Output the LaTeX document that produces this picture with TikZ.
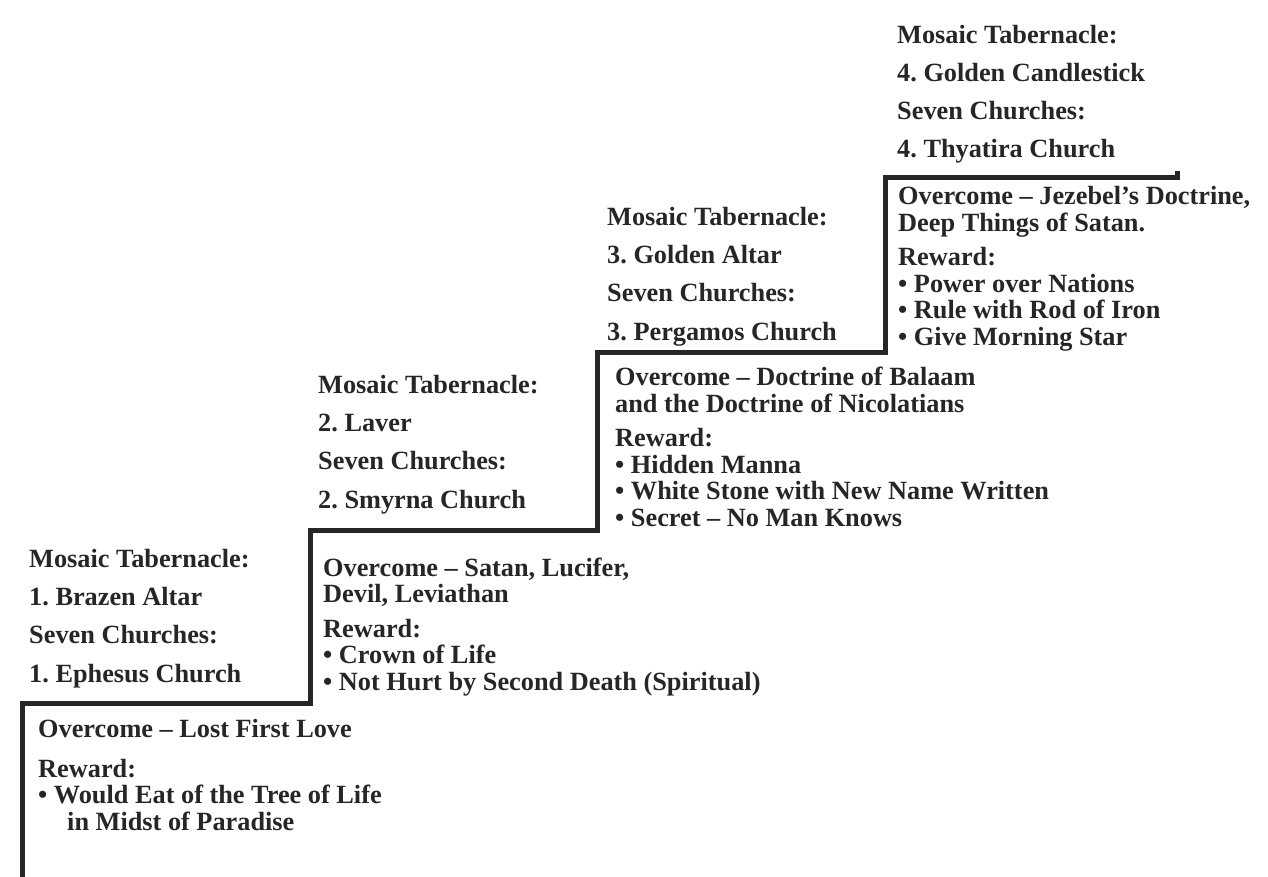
\documentclass[tikz,border=0pt]{standalone}
\usepackage{fontspec}
\setmainfont{Liberation Serif}
\usepackage{tikz}

\begin{document}
\begin{tikzpicture}[x=1pt, y=-1pt,
        tabtext/.style={anchor=base west, align=left, inner sep=0pt, text=black!85,
            font=\fontsize{26.3}{38.3}\selectfont\bfseries\frenchspacing},
        wintext/.style={anchor=base west, align=left, inner sep=0pt, text=black!85,
            font=\fontsize{26.3}{26.5}\selectfont\bfseries\frenchspacing}]
        \useasboundingbox (0,0) rectangle (1268,877);

        % the four steps
        \coordinate (base) at (22,882);
        \coordinate (t1) at (310,703);
        \coordinate (t2) at (597,530);
        \coordinate (t3) at (885,352);
        \coordinate (t4) at (1177,178);
        \coordinate (tip) at (1177,171);
        \draw[line width=5pt, black!85] (base) |- (t1) |- (t2) |- (t3) |- (t4) -- (tip);

        % above each step (placed by the last line)
        \node[tabtext] (tab1) at (29,682) {Mosaic Tabernacle:\\1. Brazen Altar\\Seven Churches:\\1. Ephesus Church};
        \node[tabtext] (tab2) at (318,508) {Mosaic Tabernacle:\\2. Laver\\Seven Churches:\\2. Smyrna Church};
        \node[tabtext] (tab3) at (607,340) {Mosaic Tabernacle:\\3. Golden Altar\\Seven Churches:\\3. Pergamos Church};
        \node[tabtext] (tab4) at (897,158) {Mosaic Tabernacle:\\4. Golden Candlestick\\Seven Churches:\\4. Thyatira Church};

        % below each step (placed by the last line)
        \node[wintext] (win1) at (38,830) {Overcome -- Lost First Love\\[13pt]Reward:\\\textbullet\ Would Eat of the Tree of Life\\\hspace*{29pt}in Midst of Paradise};
        \node[wintext] (win2) at (323,690) {Overcome -- Satan, Lucifer,\\Devil, Leviathan\\[8pt]Reward:\\\textbullet\ Crown of Life\\\textbullet\ Not Hurt by Second Death (Spiritual)};
        \node[wintext] (win3) at (615,526) {Overcome -- Doctrine of Balaam\\and the Doctrine of Nicolatians\\[8pt]Reward:\\\textbullet\ Hidden Manna\\\textbullet\ White Stone with New Name Written\\\textbullet\ Secret -- No Man Knows};
        \node[wintext] (win4) at (898,345) {Overcome -- Jezebel's Doctrine,\\Deep Things of Satan.\\[8pt]Reward:\\\textbullet\ Power over Nations\\\textbullet\ Rule with Rod of Iron\\\textbullet\ Give Morning Star};
    \end{tikzpicture}
\end{document}
